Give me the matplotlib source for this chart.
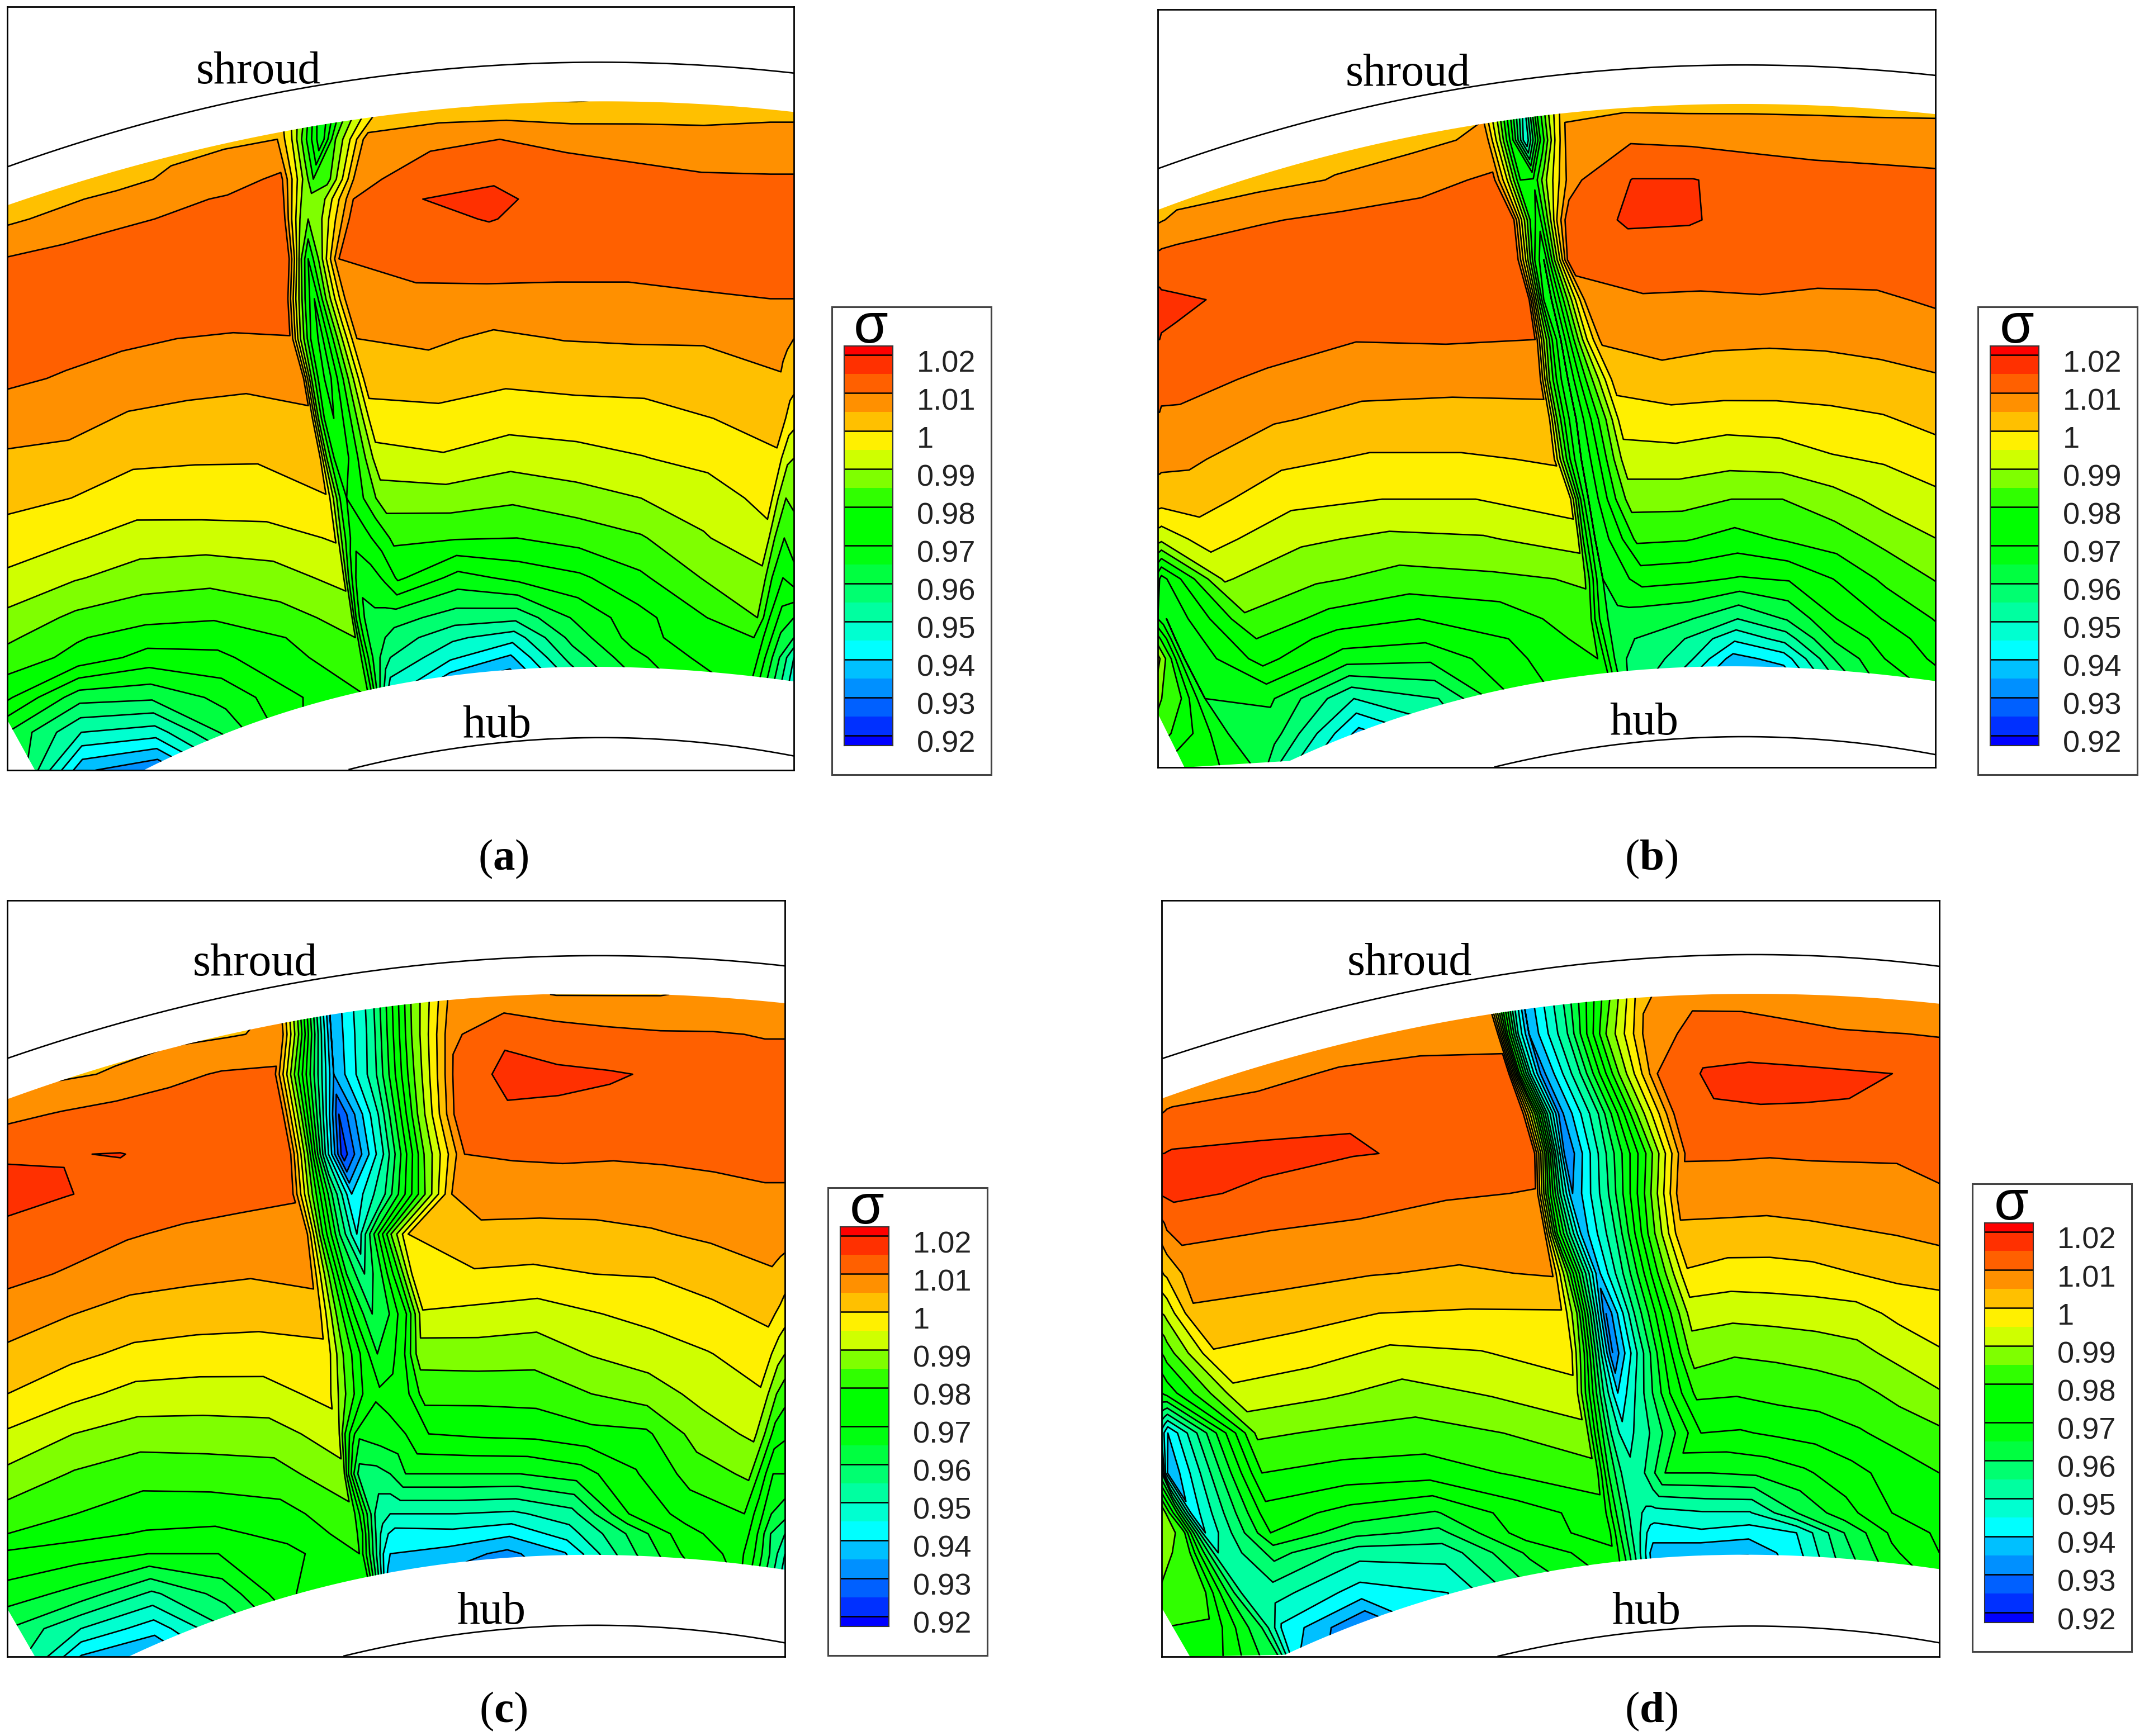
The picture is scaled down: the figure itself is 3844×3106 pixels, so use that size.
import numpy as np
import matplotlib
matplotlib.use("Agg")
import matplotlib.pyplot as plt
from matplotlib.colors import ListedColormap, BoundaryNorm
from matplotlib.patches import Polygon, Rectangle

W, H = 3844, 3106
plt.rcParams['mathtext.fontset'] = 'custom'
plt.rcParams['mathtext.rm'] = 'Liberation Serif'
plt.rcParams['mathtext.bf'] = 'Liberation Serif:bold'

band_colors = ['#0000ff', '#0030ff', '#0060ff', '#0090ff', '#00c0ff', '#00ffff', '#00ffd0', '#00ffa0',
               '#00ff70', '#00ff40', '#00ff10', '#00ff00', '#00ff00', '#30ff00', '#7fff00', '#cfff00',
               '#fff000', '#ffc000', '#ff9000', '#ff6000', '#ff3000', '#ff0000']
line_levels = [0.92, 0.925, 0.93, 0.935, 0.94, 0.945, 0.95, 0.955, 0.96, 0.965, 0.97, 0.975, 0.98,
               0.985, 0.99, 0.995, 1.0, 1.005, 1.01, 1.015, 1.02]
bar_ticks = [1.02, 1.01, 1, 0.99, 0.98, 0.97, 0.96, 0.95, 0.94, 0.93, 0.92]
bar_labels = ['1.02', '1.01', '1', '0.99', '0.98', '0.97', '0.96', '0.95', '0.94', '0.93', '0.92']

# ---- panel (a): stations per row and sigma at the stations
a_y = [200, 280, 360, 400, 440, 520, 600, 680, 760, 840, 920, 1000, 1080, 1160, 1240, 1280, 1320, 1400, 1470, 1546]
a_l = [535, 540, 548, 550, 552, 560, 558, 565, 590, 605, 622, 636, 652, 668, 684, 692, 700, 718, 735, 750]
a_t = [625, 625, 610, 605, 600, 600, 612, 625, 640, 650, 665, 675, 690, 700, 712, 720, 730, 740, 750, 760]
a_r = [750, 710, 695, 688, 680, 660, 680, 695, 712, 725, 735, 745, 765, 775, 770, 765, 760, 760, 765, 770]
a_s = [1500, 1500, 1500, 1500, 1500, 1500, 1500, 1500, 1525, 1522, 1510, 1500, 1490, 1482, 1475, 1468, 1462, 1455, 1450, 1450]
a_sigma = [
 [1.002,1.002,1.002,1.002,1.003,1.003, .995,.985,.965,.98,.992,1.0, 1.0,.9995,.9995,1.001,1.002,1.003, 1.003,1.003,1.003],
 [1.003,1.003,1.003,1.003,1.004,1.005, .995,.98,.966,.985,.995,1.006, 1.0085,1.01,1.0085,1.0075,1.0066,1.0065, 1.0065,1.0065,1.0065],
 [1.001,1.002,1.003,1.006,1.008,1.011, 1.0,.99,.98,.983,.995,1.008, 1.0135,1.0147,1.013,1.0118,1.0107,1.0105, 1.0105,1.0105,1.0105],
 [1.002,1.004,1.0065,1.009,1.0105,1.0115, 1.0,.99,.987,.99,1.0,1.01, 1.015,1.0156,1.014,1.0125,1.0115,1.011, 1.011,1.011,1.011],
 [1.004,1.0065,1.009,1.0105,1.012,1.012, 1.0,.99,.985,.99,1.0,1.01, 1.014,1.0152,1.0135,1.013,1.012,1.0115, 1.0115,1.0115,1.0115],
 [1.0103,1.012,1.013,1.014,1.014,1.013, 1.0,.985,.975,.985,.998,1.01, 1.0115,1.0125,1.0125,1.0125,1.012,1.012, 1.012,1.012,1.012],
 [1.013,1.014,1.0145,1.0145,1.014,1.0125, .995,.98,.97,.985,.998,1.009, 1.009,1.0085,1.0082,1.0082,1.0095,1.01, 1.01,1.01,1.01],
 [1.013,1.012,1.011,1.01,1.0093,1.0098, .99,.975,.968,.98,.993,1.005, 1.006,1.004,1.0052,1.0055,1.0055,1.0075, 1.007,1.006,1.005],
 [1.011,1.0095,1.0078,1.0066,1.0061,1.0065, .985,.972,.968,.978,.99,1.002, 1.0025,1.001,1.0016,1.002,1.0027,1.0045, 1.0035,1.0025,1.002],
 [1.0073,1.0068,1.0044,1.0037,1.0032,1.0043, .985,.972,.97,.977,.987,.998, .9985,.9971,.9978,.998,1.0,1.002, 1.0,.998,.997],
 [1.0043,1.0035,1.0009,1.0004,1.0003,1.0019, .985,.975,.972,.977,.985,.993, .9944,.992,.993,.9948,.9965,.9993, .995,.991,.99],
 [1.0014,1.0,.9977,.998,.9982,.9998, .99,.98,.975,.978,.983,.9875, .9877,.986,.988,.99,.9924,.9967, .99,.985,.986],
 [.998,.9957,.9928,.9925,.9928,.9955, .985,.977,.972,.974,.977,.981, .9805,.98,.982,.9845,.9895,.9935, .985,.98,.983],
 [.994,.9905,.9875,.9866,.988,.9915, .98,.972,.966,.968,.971,.976, .968,.9715,.974,.979,.985,.9885, .98,.975,.978],
 [.9887,.9838,.9815,.9805,.983,.987, .975,.968,.964,.964,.963,.962, .9575,.9565,.966,.973,.979,.985, .975,.968,.965],
 [.986,.9805,.9773,.977,.98,.985, .975,.968,.964,.962,.96,.958, .951,.947,.962,.972,.978,.98, .973,.964,.96],
 [.983,.9785,.973,.9738,.979,.9825, .975,.968,.963,.96,.957,.955, .946,.939,.957,.968,.975,.98, .97,.96,.95],
 [.976,.962,.961,.9665,.9745,.98, .975,.968,.96,.955,.95,.945, .93,.925,.945,.96,.97,.975, .965,.955,.945],
 [.965,.95,.9475,.962,.975,.985, .975,.968,.96,.955,.95,.945, .93,.925,.945,.96,.97,.975, .965,.955,.945],
 [.968,.936,.93,.95,.97,.98, .975,.968,.96,.955,.95,.945, .93,.925,.945,.96,.97,.975, .965,.955,.945],
]

# ---- panel (b)
b_y = [200, 280, 360, 440, 520, 600, 680, 760, 840, 920, 1000, 1080, 1160, 1240, 1280, 1320, 1400, 1470, 1546]
b_sa = [30, 30, 30, 30, 30, 30, 30, 30, 30, 30, 30, 30, 30, 40, 57, 75, 115, 160, 215]
b_sb = [60, 60, 60, 60, 60, 60, 60, 60, 70, 80, 95, 115, 150, 200, 215, 225, 240, 250, 250]
b_l = [650, 665, 678, 715, 722, 745, 758, 768, 782, 795, 825, 840, 855, 862, 870, 880, 900, 915, 930]
b_t = [735, 740, 755, 765, 775, 790, 808, 822, 838, 848, 862, 875, 890, 900, 910, 918, 935, 945, 955]
b_r = [805, 825, 830, 818, 822, 860, 885, 912, 925, 935, 942, 955, 968, 960, 952, 945, 955, 965, 975]
b_sigma = [
 [1.003,1.003,1.003,1.003,1.003,1.003,1.003,1.004, .99,.97,.948,.975,.99,1.0, 1.003,1.003,1.0032,1.0035,1.0035,1.0035],
 [1.002,1.002,1.002,1.002,1.002,1.003,1.0035,1.006, .99,.97,.945,.975,.995,1.009, 1.0095,1.009,1.0085,1.0075,1.007,1.0068],
 [1.001,1.001,1.001,1.002,1.003,1.0053,1.008,1.011, .995,.975,.976,.99,1.0,1.009, 1.0152,1.0152,1.013,1.0125,1.012,1.0113],
 [1.0045,1.0045,1.0047,1.006,1.0095,1.0113,1.0125,1.012, .995,.98,.972,.985,1.0,1.011, 1.0158,1.0154,1.0135,1.0135,1.013,1.0125],
 [1.0117,1.0117,1.012,1.0125,1.0135,1.014,1.0145,1.013, .995,.975,.965,.98,.995,1.011, 1.0122,1.0125,1.0127,1.0125,1.0125,1.0122],
 [1.0165,1.0165,1.016,1.0155,1.014,1.0135,1.0135,1.0122, .99,.97,.965,.98,.995,1.0085, 1.0096,1.0093,1.0096,1.009,1.0092,1.0107],
 [1.015,1.015,1.0148,1.0146,1.0125,1.0102,1.0105,1.01, .99,.975,.965,.98,.995,1.0055, 1.0066,1.0056,1.0055,1.0058,1.0065,1.0075],
 [1.0123,1.0123,1.012,1.012,1.009,1.0068,1.0062,1.0055, .985,.972,.965,.978,.99,1.002, 1.0035,1.0035,1.0032,1.003,1.0035,1.0045],
 [1.0095,1.0095,1.009,1.0088,1.0055,1.0035,1.0035,1.0045, .985,.972,.965,.975,.985,.997, .998,.9969,.9972,.9984,.9995,1.0015],
 [1.0065,1.0065,1.0063,1.006,1.0013,.9993,.9993,1.0005, .985,.972,.965,.973,.983,.993, .993,.992,.9925,.9945,.9955,.9976],
 [1.0025,1.0025,1.0024,1.0023,.9966,.995,.995,.9975, .985,.972,.965,.972,.98,.987, .987,.985,.985,.988,.9917,.9938],
 [.992,.992,.9915,.9972,.991,.9888,.9895,.9925, .98,.972,.965,.97,.975,.981, .9804,.978,.9805,.9826,.9865,.9899],
 [.972,.97,.968,.9905,.986,.983,.984,.9855, .978,.97,.965,.967,.97,.972, .9711,.9695,.9705,.9755,.9813,.9853],
 [.97,.968,.965,.984,.978,.975,.977,.9835, .975,.968,.965,.964,.963,.962, .9605,.955,.9605,.97,.9755,.9803],
 [.982,.975,.965,.98,.9725,.971,.975,.982, .975,.968,.964,.962,.961,.96, .955,.946,.952,.966,.972,.978],
 [.992,.98,.965,.977,.9675,.966,.974,.98, .975,.968,.963,.961,.96,.958, .9535,.938,.942,.96,.97,.976],
 [.986,.98,.965,.966,.95,.955,.972,.98, .975,.968,.963,.96,.958,.955, .94,.928,.93,.95,.965,.97],
 [.983,.975,.965,.962,.938,.948,.975,.98, .975,.968,.963,.96,.958,.955, .94,.928,.93,.95,.965,.97],
 [.975,.972,.965,.955,.928,.945,.975,.98, .975,.968,.963,.96,.958,.955, .94,.928,.93,.95,.965,.97],
]

# ---- panel (c)
c_y = [200, 280, 360, 440, 520, 600, 680, 760, 840, 920, 1000, 1080, 1160, 1240, 1280, 1320, 1400, 1470, 1550]
c_l = [545, 550, 535, 550, 565, 570, 595, 605, 620, 635, 640, 658, 668, 685, 692, 700, 718, 730, 740]
c_t = [640, 645, 650, 660, 668, 685, 695, 710, 725, 735, 740, 700, 700, 730, 735, 740, 745, 750, 755]
c_r = [880, 880, 885, 890, 905, 880, 795, 810, 825, 815, 825, 835, 790, 775, 767, 760, 765, 770, 775]
c_s = [1490, 1490, 1490, 1490, 1490, 1490, 1500, 1505, 1500, 1490, 1480, 1470, 1460, 1450, 1445, 1440, 1440, 1440, 1440]
c_sigma = [
 [1.003,1.003,1.003,1.003,1.004,1.005, .985,.96,.935,.952,.985,1.007, 1.0065,1.0048,1.0048,1.0048,1.006,1.0065, 1.0065,1.0065,1.0065],
 [1.003,1.003,1.003,1.0035,1.0045,1.006, .985,.96,.935,.952,.985,1.009, 1.014,1.0125,1.0112,1.0105,1.0103,1.0098, 1.0098,1.0098,1.0098],
 [1.004,1.004,1.0055,1.0085,1.0105,1.011, .985,.96,.935,.953,.985,1.011, 1.0165,1.0158,1.0154,1.0145,1.012,1.0115, 1.0115,1.0115,1.0115],
 [1.0085,1.0105,1.0122,1.013,1.013,1.0112, .985,.955,.925,.95,.985,1.012, 1.0142,1.0143,1.0138,1.013,1.0125,1.012, 1.012,1.012,1.012],
 [1.0145,1.0149,1.0151,1.014,1.014,1.011, .985,.95,.922,.95,.985,1.01, 1.0106,1.0108,1.0105,1.0108,1.0112,1.012, 1.012,1.012,1.012],
 [1.0165,1.0152,1.014,1.0128,1.0115,1.0105, .985,.96,.94,.955,.98,1.005, 1.007,1.0074,1.0075,1.0078,1.0085,1.0092, 1.0092,1.0092,1.0092],
 [1.0138,1.0125,1.0105,1.009,1.0083,1.0082, .98,.96,.945,.965,.985,1.0, 1.0039,1.0034,1.0036,1.0045,1.0058,1.0072, 1.0072,1.0072,1.0072],
 [1.0115,1.0095,1.0072,1.0061,1.0054,1.0065, .985,.965,.955,.965,.98,.9995, .9994,.9989,1.0,1.0003,1.0023,1.0045, 1.004,1.0033,1.0025],
 [1.0075,1.0052,1.003,1.0024,1.0019,1.0025, .985,.97,.96,.965,.975,.9945, .9936,.9925,.9948,.9967,.9987,1.0012, 1.0,.999,.9975],
 [1.004,1.0012,.9988,.9978,.9976,.9985, .985,.975,.965,.968,.975,.987, .9875,.987,.9903,.9923,.9947,.9975, .995,.992,.99],
 [1.0,.9965,.9933,.9929,.993,.9965, .985,.975,.971,.972,.975,.982, .9817,.982,.985,.9875,.9916,.9945, .99,.985,.982],
 [.9943,.99,.9875,.9875,.988,.9925, .98,.972,.966,.968,.97,.975, .976,.9765,.9785,.979,.9875,.991, .985,.978,.976],
 [.9888,.9845,.982,.9825,.983,.9885, .975,.965,.958,.958,.96,.965, .965,.965,.9675,.9745,.982,.986, .978,.97,.97],
 [.983,.98,.9773,.977,.9783,.9835, .975,.965,.955,.952,.95,.95, .95,.949,.953,.97,.977,.98, .973,.965,.962],
 [.98,.9765,.9745,.9738,.9765,.982, .975,.963,.953,.948,.945,.943, .9435,.941,.9475,.96,.973,.979, .971,.96,.955],
 [.974,.9725,.97,.97,.9735,.98, .97,.96,.95,.945,.943,.94, .938,.9335,.9395,.957,.97,.977, .97,.96,.95],
 [.968,.963,.954,.962,.975,.98, .97,.96,.95,.94,.935,.93, .93,.925,.935,.95,.965,.975, .965,.955,.945],
 [.96,.95,.942,.955,.97,.98, .97,.96,.95,.94,.935,.93, .93,.925,.935,.95,.965,.975, .965,.955,.945],
 [.958,.935,.93,.945,.965,.98, .97,.96,.95,.94,.935,.93, .93,.925,.935,.95,.965,.975, .965,.955,.945],
]

# ---- panel (d)
d_y = [200, 280, 360, 440, 520, 600, 680, 760, 840, 920, 1000, 1080, 1160, 1240, 1280, 1320, 1400, 1470, 1550]
d_sa = [30, 30, 30, 30, 30, 30, 30, 30, 30, 30, 30, 32, 35, 80, 105, 130, 175, 215, 260]
d_sb = [40, 40, 40, 40, 40, 40, 55, 70, 85, 125, 170, 205, 215, 225, 232, 240, 235, 255, 285]
d_l = [650, 672, 695, 722, 745, 748, 765, 780, 800, 815, 825, 845, 865, 880, 890, 900, 920, 930, 940]
d_t = [722, 735, 760, 795, 808, 820, 840, 868, 885, 898, 908, 920, 940, 955, 958, 962, 970, 975, 980]
d_r = [955, 960, 985, 1020, 1040, 1030, 1030, 1045, 1050, 1055, 1060, 1070, 1000, 980, 978, 975, 990, 990, 990]
d_sigma = [
 [1.006,1.006,1.006,1.006,1.006,1.006,1.006,1.006, .98,.955,.935,.955,.98,1.004, 1.0085,1.008,1.0065,1.006,1.006,1.006],
 [1.006,1.006,1.006,1.006,1.006,1.006,1.0075,1.0085, .975,.95,.935,.955,.985,1.006, 1.012,1.0125,1.0118,1.0105,1.0101,1.0098],
 [1.006,1.006,1.006,1.006,1.008,1.0108,1.012,1.0115, .975,.95,.933,.955,.985,1.01, 1.0155,1.016,1.0158,1.0155,1.015,1.012],
 [1.01,1.0102,1.0105,1.0108,1.0125,1.0148,1.014,1.012, .985,.955,.933,.955,.985,1.011, 1.0147,1.0147,1.0147,1.0147,1.014,1.0125],
 [1.015,1.015,1.0152,1.0155,1.0162,1.0152,1.0145,1.0115, .985,.955,.93,.955,.98,1.0105, 1.0105,1.0103,1.0105,1.0105,1.0105,1.0115],
 [1.0155,1.0157,1.0158,1.016,1.0142,1.0125,1.0105,1.0098, .98,.955,.935,.955,.98,1.008, 1.0077,1.0075,1.0078,1.0082,1.0085,1.0095],
 [1.007,1.008,1.0095,1.0115,1.0097,1.0086,1.0076,1.0065, .975,.955,.937,.955,.98,1.0035, 1.0033,1.003,1.0037,1.0045,1.0052,1.0061],
 [.9995,1.0005,1.001,1.0065,1.0067,1.0053,1.0043,1.0055, .985,.96,.938,.958,.98,.9995, .9979,.998,.9985,1.0,1.0013,1.0025],
 [.99,.9905,.9915,1.0045,1.0026,1.0,.9995,.9995, .985,.958,.93,.955,.975,.992, .9915,.992,.9925,.993,.9963,.9966],
 [.98,.981,.9825,.9995,.9972,.9937,.9947,.9975, .98,.955,.93,.952,.972,.9875, .9855,.986,.987,.9885,.9915,.9947],
 [.97,.971,.972,.9935,.991,.988,.9905,.993, .975,.955,.94,.955,.97,.981, .9805,.9817,.9823,.9835,.9865,.9895],
 [.948,.944,.94,.986,.984,.983,.985,.9885, .97,.955,.947,.955,.965,.975, .9745,.976,.9773,.9795,.982,.984],
 [.96,.945,.935,.98,.978,.9773,.9805,.983, .965,.955,.952,.955,.96,.965, .965,.966,.969,.973,.977,.98],
 [.99,.97,.942,.973,.968,.9645,.9725,.9775, .965,.955,.95,.949,.948,.948, .9495,.9495,.96,.968,.975,.978],
 [.99,.982,.945,.97,.9617,.9585,.9725,.977, .965,.955,.948,.945,.943,.942, .944,.942,.945,.96,.971,.976],
 [.988,.98,.95,.962,.952,.952,.966,.974, .965,.955,.945,.942,.94,.938, .936,.9355,.943,.958,.969,.975],
 [.984,.983,.955,.9525,.9425,.945,.96,.97, .965,.955,.945,.94,.935,.93, .925,.928,.94,.955,.965,.97],
 [.98,.979,.96,.944,.928,.945,.96,.97, .965,.955,.945,.94,.935,.93, .925,.928,.94,.955,.965,.97],
 [.978,.975,.96,.94,.925,.945,.96,.97, .965,.955,.945,.94,.935,.93, .925,.928,.94,.955,.965,.97],
]

# ---- geometry of the annulus, read per panel
a_top = [(14,412),(260,335),(545,265),(730,235),(1000,208),(1200,205),(1546,225)]
a_hub = [(280,1546),(600,1415),(720,1385),(1000,1345),(1200,1338),(1546,1368)]
a_shroudline = [(14,335),(250,258),(500,195),(800,145),(1100,127),(1546,147)]
a_hubline = [(680,1546),(850,1505),(1000,1488),(1150,1483),(1546,1517)]
b_top = [(23,420),(650,248),(1000,212),(1250,208),(1538,228)]
b_hub = [(280,1525),(600,1405),(850,1355),(1150,1335),(1538,1365)]
b_shroudline = [(23,337),(250,262),(620,175),(1000,133),(1200,130),(1538,150)]
b_hubline = [(680,1538),(850,1500),(1000,1483),(1150,1478),(1538,1512)]
c_top = [(14,410),(550,258),(830,215),(1100,200),(1300,200),(1529,218)]
c_hub = [(250,1526),(500,1425),(800,1350),(1200,1323),(1529,1352)]
c_shroudline = [(14,328),(300,240),(640,165),(1000,127),(1150,123),(1529,143)]
c_hubline = [(670,1526),(850,1485),(1150,1465),(1529,1498)]
d_top = [(20,410),(665,240),(950,208),(1150,200),(1534,220)]
d_hub = [(260,1525),(500,1425),(800,1355),(1200,1323),(1534,1353)]
d_shroudline = [(20,330),(300,245),(660,165),(1000,127),(1534,145)]
d_hubline = [(675,1528),(850,1490),(1150,1468),(1534,1500)]

panels = [
    dict(tag='a', box=(13, 12, 1420, 1378), lim=(14, 1546, 14, 1546),
         breaks=[[14]*len(a_y), a_l, a_t, a_r, a_s, [1546]*len(a_y)], steps=[5, 3, 3, 6, 3],
         y=a_y, sigma=a_sigma, top=a_top, hub=a_hub, corner=[(68, 1546), (14, 1445)],
         shroud=a_shroudline, hubline=a_hubline, shroud_xy=(503, 146), hub_xy=(968, 1458),
         bar=(1488, 549), label=(900, 1537)),
    dict(tag='b', box=(2071, 17, 3462, 1373), lim=(23, 1538, 18, 1538),
         breaks=[[23]*len(b_y), b_sa, b_sb, b_l, b_t, b_r, [1538]*len(b_y)], steps=[2, 1, 4, 3, 3, 6],
         y=b_y, sigma=b_sigma, top=b_top, hub=b_hub, corner=[(75, 1538), (23, 1430)],
         shroud=b_shroudline, hubline=b_hubline, shroud_xy=(510, 148), hub_xy=(970, 1450),
         bar=(3538, 549), label=(2954, 1537)),
    dict(tag='c', box=(13, 1611, 1404, 2964), lim=(14, 1529, 12, 1526),
         breaks=[[14]*len(c_y), c_l, c_t, c_r, c_s, [1529]*len(c_y)], steps=[5, 3, 3, 6, 3],
         y=c_y, sigma=c_sigma, top=c_top, hub=c_hub, corner=[(68, 1526), (14, 1430)],
         shroud=c_shroudline, hubline=c_hubline, shroud_xy=(497, 140), hub_xy=(957, 1438),
         bar=(1481, 2125), label=(900, 3062)),
    dict(tag='d', box=(2078, 1611, 3469, 2964), lim=(20, 1534, 13, 1528),
         breaks=[[20]*len(d_y), d_sa, d_sb, d_l, d_t, d_r, [1534]*len(d_y)], steps=[2, 1, 4, 3, 3, 6],
         y=d_y, sigma=d_sigma, top=d_top, hub=d_hub, corner=[(75, 1528), (20, 1430)],
         shroud=d_shroudline, hubline=d_hubline, shroud_xy=(503, 140), hub_xy=(963, 1440),
         bar=(3528, 2118), label=(2954, 3062)),
]

fig = plt.figure(figsize=(W / 100, H / 100), dpi=100, facecolor='white')
SERIF = 'Liberation Serif'
SANS = 'Liberation Sans'
fill_levels = [0.9] + line_levels + [1.03]
cmap = ListedColormap(band_colors)
norm = BoundaryNorm(fill_levels, cmap.N)


def px_axes(x0, y0, x1, y1, **kw):
    return fig.add_axes([x0 / W, 1 - y1 / H, (x1 - x0) / W, (y1 - y0) / H], **kw)


def smooth(pts, deg=3):
    p = np.array(pts, float)
    xs = np.linspace(p[0, 0], p[-1, 0], 240)
    return xs, np.polyval(np.polyfit(p[:, 0], p[:, 1], deg), xs)


def stations(breaks, steps):
    br = np.array(breaks, float)
    cols = []
    for k, n in enumerate(steps):
        for s in range(n):
            cols.append(br[k] + (br[k + 1] - br[k]) * s / n)
    cols.append(br[-1])
    return np.array(cols).T


for p in panels:
    ax = px_axes(*p['box'])
    x0, x1, y0, y1 = p['lim']
    X = stations(p['breaks'], p['steps'])
    Y = np.repeat(np.array(p['y'], float)[:, None], X.shape[1], axis=1)
    Z = np.array(p['sigma'])
    tx, ty = smooth(p['top'])
    hx, hy = smooth(p['hub'])
    verts = list(zip(tx, ty)) + list(zip(hx[::-1], hy[::-1])) + p['corner']
    clip = Polygon(verts, closed=True, transform=ax.transData, fc='none', ec='none')
    ax.add_patch(clip)
    cf = ax.contourf(X, Y, Z, levels=fill_levels, cmap=cmap, norm=norm)
    cf.set_clip_path(clip)
    cl = ax.contour(X, Y, Z, levels=line_levels, colors='black', linewidths=1.9, linestyles='solid')
    cl.set_clip_path(clip)
    sx, sy = smooth(p['shroud'])
    ax.plot(sx, sy, color='black', lw=1.9)
    ux, uy = smooth(p['hubline'], 2)
    ax.plot(ux, uy, color='black', lw=1.9)
    ax.text(*p['shroud_xy'], 'shroud', family=SERIF, fontsize=59, ha='center', va='center')
    ax.text(*p['hub_xy'], 'hub', family=SERIF, fontsize=59, ha='center', va='center')
    ax.set_xlim(x0, x1)
    ax.set_ylim(y1, y0)
    ax.set_xticks([])
    ax.set_yticks([])
    for s in ax.spines.values():
        s.set_linewidth(2.0)

    # legend box
    bx, by = p['bar']
    fig.add_artist(Rectangle((bx / W, 1 - (by + 837) / H), 285 / W, 837 / H, transform=fig.transFigure,
                             fc='white', ec='#444444', lw=2.2, zorder=-5))
    cax = px_axes(bx + 22, by + 70, bx + 109, by + 785)
    cax.pcolormesh([0, 1], fill_levels, np.arange(len(band_colors))[:, None], cmap=cmap,
                   norm=BoundaryNorm(np.arange(len(band_colors) + 1) - 0.5, cmap.N))
    cax.hlines(bar_ticks, 0, 1, color='black', lw=1.8)
    cax.set_xlim(0, 1)
    cax.set_ylim(0.91736, 1.02235)
    cax.set_xticks([])
    cax.set_yticks([])
    for s in cax.spines.values():
        s.set_linewidth(1.5)
        s.set_color('#333333')
    for v, t in zip(bar_ticks, bar_labels):
        yy = by + 86 + (1.02 - v) * 6810 + 16
        fig.text((bx + 152) / W, 1 - yy / H, t, family=SANS, fontsize=39, color='#222222', ha='left', va='center')
    fig.text((bx + 70) / W, 1 - (by + 38) / H, 'σ', family=SANS, fontsize=72, ha='center', va='center')
    fig.text(p['label'][0] / W, 1 - p['label'][1] / H, '($\\mathbf{%s}$)' % p['tag'],
             family=SERIF, fontsize=57, ha='center', va='center')

fig.savefig('out.png', dpi=100, facecolor='white')
